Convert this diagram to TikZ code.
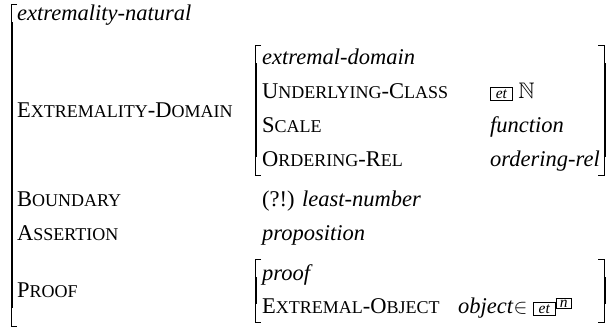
\documentclass[tikz,border=0pt]{standalone}
\usepackage{amssymb}
\usepackage{fontspec}
\setmainfont{Liberation Serif}
\usepackage{tikz}
% fake small caps: the rest of a word in a smaller size
\newcommand{\fsc}[1]{{\fontsize{18}{18}\selectfont #1}}
\newcommand{\etbox}{{\fontsize{15.5}{15}\selectfont\setlength\fboxsep{1.6pt}\setlength\fboxrule{0.7pt}\fbox{\makebox[18pt]{\itshape et\/}}}}
\newcommand{\nbox}{{\fontsize{15.5}{15}\selectfont\setlength\fboxsep{1.4pt}\setlength\fboxrule{0.7pt}\fbox{\makebox[12pt]{\itshape n\/}}}}
\tikzset{attr/.style={anchor=base west,inner sep=0pt,font=\fontsize{22.5}{26}\selectfont},
    type/.style={attr,font=\fontsize{22.5}{26}\selectfont\itshape},
    brack thin/.style={line width=0.8pt},
    brack thick/.style={line width=2.6pt}}
% left bracket: x, top, bottom
\newcommand{\avmleft}[3]{%
    \draw[brack thin] (#1+6,#2) -- (#1,#2) -- (#1,#3) -- (#1+6,#3);
    \draw[brack thick] (#1+0.9,#2+18) -- (#1+0.9,#3-18);}
% right bracket: x, top, bottom
\newcommand{\avmright}[3]{%
    \draw[brack thin] (#1-6,#2) -- (#1,#2) -- (#1,#3) -- (#1-6,#3);
    \draw[brack thick] (#1+0.9,#2+18) -- (#1+0.9,#3-18);}

\begin{document}
\begin{tikzpicture}[x=1pt,y=-1pt]
            \useasboundingbox (0,0) rectangle (607,329);
            % outer matrix
            \avmleft{11}{4}{326}
            \node[type] (top) at (17,21) {extremality-natural};
            \node[attr] (dom) at (17,117) {E\fsc{XTREMALITY}-D\fsc{OMAIN}};
            \node[attr] (bnd) at (17,206) {B\fsc{OUNDARY}};
            \node[attr] (bndval) at (262,206) {(?!) \textit{least-number}};
            \node[attr] (asr) at (17,240) {A\fsc{SSERTION}};
            \node[type] (asrval) at (262,240) {proposition};
            \node[attr] (prf) at (17,297) {P\fsc{ROOF}};
            % domain matrix
            \avmleft{255}{45}{175}
            \avmright{604}{45}{175}
            \node[type] (domtype) at (262,64) {extremal-domain};
            \node[attr] (ucl) at (262,98) {U\fsc{NDERLYING}-C\fsc{LASS}};
            \node[attr] (uclval) at (490,98) {\etbox\ $\mathbb{N}$};
            \node[attr] (scl) at (262,132) {S\fsc{CALE}};
            \node[type] (sclval) at (490,132) {function};
            \node[attr] (ord) at (262,166) {O\fsc{RDERING}-R\fsc{EL}};
            \node[type] (ordval) at (490,166) {ordering-rel};
            % proof matrix
            \avmleft{255}{259}{322}
            \avmright{604}{259}{322}
            \node[type] (prftype) at (262,280) {proof};
            \node[attr] (obj) at (262,313) {E\fsc{XTREMAL}-O\fsc{BJECT}};
            \node[attr] (objval) at (458,313) {\textit{object}$\in$\ \etbox\raisebox{6pt}{\nbox}};
        \end{tikzpicture}
\end{document}
